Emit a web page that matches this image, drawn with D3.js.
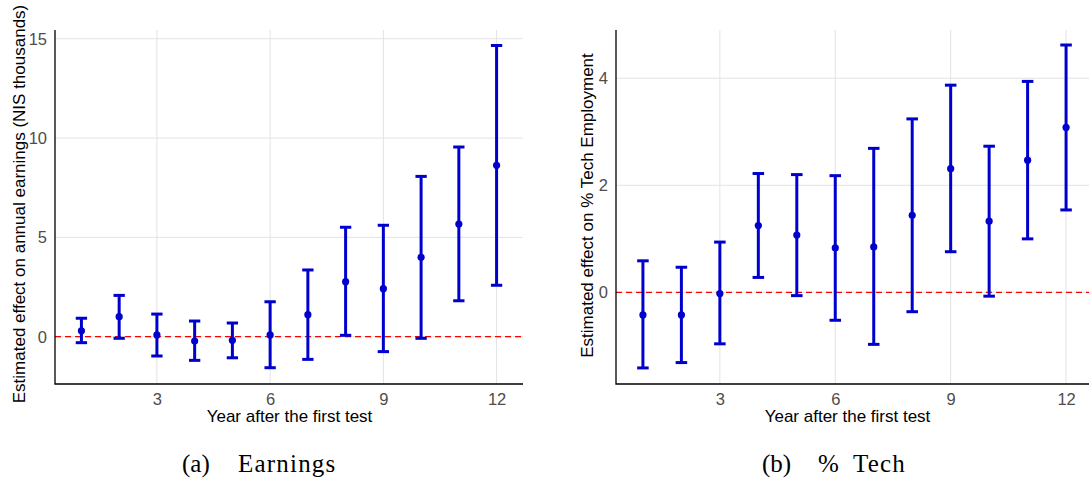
<!DOCTYPE html>
<html>
<head>
<meta charset="utf-8">
<script src="https://cdn.jsdelivr.net/npm/d3@7"></script>
<style>
  html, body { margin: 0; padding: 0; background: #fff; }
  svg { display: block; }
</style>
</head>
<body>
<svg id="chart" width="1089" height="483"></svg>
<script>
// event-study estimates with 95% intervals, by year after the first test
const years = [1, 2, 3, 4, 5, 6, 7, 8, 9, 10, 11, 12];
const xTicks = [3, 6, 9, 12];

const earnEst = [0.30, 1.01, 0.09, -0.22, -0.18, 0.09, 1.11, 2.77, 2.42, 4.00, 5.67, 8.63];
const earnLo  = [-0.30, -0.08, -0.97, -1.19, -1.06, -1.56, -1.14, 0.07, -0.75, -0.08, 1.81, 2.59];
const earnHi  = [0.93, 2.08, 1.14, 0.79, 0.69, 1.76, 3.36, 5.51, 5.61, 8.07, 9.55, 14.66];
const earnTicks = [0, 5, 10, 15];

const techEst = [-0.42, -0.42, -0.02, 1.25, 1.07, 0.83, 0.85, 1.44, 2.31, 1.33, 2.47, 3.08];
const techLo  = [-1.41, -1.31, -0.96, 0.28, -0.06, -0.52, -0.97, -0.36, 0.76, -0.07, 1.00, 1.54];
const techHi  = [0.59, 0.47, 0.94, 2.22, 2.20, 2.18, 2.69, 3.24, 3.87, 2.73, 3.94, 4.62];
const techTicks = [0, 2, 4];

const svg = d3.select('#chart');
const SANS = 'Liberation Sans, Arial, sans-serif';
const SERIF = 'Liberation Serif, Times New Roman, serif';
const BLUE = '#0000cd';

function panel(opts) {
    const {left, right, top, bottom, yDomain, yTicks, est, lo, hi, yTitle, yTitleX, yTitleY, xTitleX} = opts;
    const x = d3.scaleLinear().domain([0.3, 12.7]).range([left, right]);
    const y = d3.scaleLinear().domain(yDomain).range([bottom, top]);
    const g = svg.append('g');

    // gridlines
    g.append('g').selectAll('line').data(yTicks).join('line')
        .attr('x1', left).attr('x2', right)
        .attr('y1', (d) => y(d)).attr('y2', (d) => y(d))
        .attr('stroke', '#e3e3e3').attr('stroke-width', 1);
    g.append('g').selectAll('line').data(xTicks).join('line')
        .attr('x1', (d) => x(d)).attr('x2', (d) => x(d))
        .attr('y1', top).attr('y2', bottom)
        .attr('stroke', '#e3e3e3').attr('stroke-width', 1);

    // tick labels
    const ya = g.append('g').attr('transform', `translate(${left},0)`)
        .call(d3.axisLeft(y).tickValues(yTicks).tickSize(0).tickPadding(8).tickFormat(d3.format('d')));
    const xa = g.append('g').attr('transform', `translate(0,${bottom})`)
        .call(d3.axisBottom(x).tickValues(xTicks).tickSize(0).tickPadding(9).tickFormat(d3.format('d')));
    [ya, xa].forEach((a) => {
        a.select('.domain').remove();
        a.selectAll('text').attr('font-family', SANS).attr('font-size', 16.5).attr('fill', '#4d4d4d');
    });

    // zero reference
    g.append('line')
        .attr('x1', left).attr('x2', right)
        .attr('y1', y(0)).attr('y2', y(0))
        .attr('stroke', '#ff0000').attr('stroke-width', 1.3)
        .attr('stroke-dasharray', '6,4');

    // error bars
    const bars = g.append('g').attr('stroke', BLUE).attr('stroke-width', 3).attr('fill', 'none');
    const cap = 0.15;
    bars.selectAll('.v').data(years).join('line').attr('class', 'v')
        .attr('x1', (d) => x(d)).attr('x2', (d) => x(d))
        .attr('y1', (d, i) => y(lo[i])).attr('y2', (d, i) => y(hi[i]));
    bars.selectAll('.hi').data(years).join('line').attr('class', 'hi')
        .attr('x1', (d) => x(d - cap)).attr('x2', (d) => x(d + cap))
        .attr('y1', (d, i) => y(hi[i])).attr('y2', (d, i) => y(hi[i]));
    bars.selectAll('.lo').data(years).join('line').attr('class', 'lo')
        .attr('x1', (d) => x(d - cap)).attr('x2', (d) => x(d + cap))
        .attr('y1', (d, i) => y(lo[i])).attr('y2', (d, i) => y(lo[i]));
    g.append('g').selectAll('circle').data(years).join('circle')
        .attr('cx', (d) => x(d)).attr('cy', (d, i) => y(est[i]))
        .attr('r', 3.6).attr('fill', BLUE);

    // axis lines
    g.append('path')
        .attr('d', `M${left},${top}V${bottom}H${right}`)
        .attr('fill', 'none').attr('stroke', '#000').attr('stroke-width', 1.3);

    // titles
    g.append('text')
        .attr('transform', `translate(${yTitleX},${yTitleY}) rotate(-90)`)
        .attr('text-anchor', 'middle').attr('font-family', SANS).attr('font-size', 17)
        .attr('fill', '#000').text(yTitle);
    g.append('text')
        .attr('x', xTitleX).attr('y', 422)
        .attr('text-anchor', 'middle').attr('font-family', SANS).attr('font-size', 17)
        .attr('fill', '#000').text('Year after the first test');
}

panel({
    left: 55, right: 523, top: 30, bottom: 384,
    yDomain: [-2.38, 15.44], yTicks: earnTicks,
    est: earnEst, lo: earnLo, hi: earnHi,
    yTitle: 'Estimated effect on annual earnings (NIS thousands)',
    yTitleX: 25, yTitleY: 204, xTitleX: 289.5
});
panel({
    left: 616, right: 1093, top: 30, bottom: 384,
    yDomain: [-1.71, 4.90], yTicks: techTicks,
    est: techEst, lo: techLo, hi: techHi,
    yTitle: 'Estimated effect on % Tech Employment',
    yTitleX: 593, yTitleY: 205.5, xTitleX: 847.5
});

// sub-figure captions
const caps = [
    {t: '(a)', x: 182}, {t: 'Earnings', x: 238},
    {t: '(b)', x: 762}, {t: '%', x: 818}, {t: 'Tech', x: 853}
];
svg.append('g').selectAll('text').data(caps).join('text')
    .attr('x', (d) => d.x).attr('y', 472)
    .attr('font-family', SERIF).attr('font-size', 25).attr('fill', '#000')
    .attr('letter-spacing', (d) => d.t === '%' || d.t.startsWith('(') ? 0 : 1.2)
    .text((d) => d.t);
</script>
</body>
</html>
